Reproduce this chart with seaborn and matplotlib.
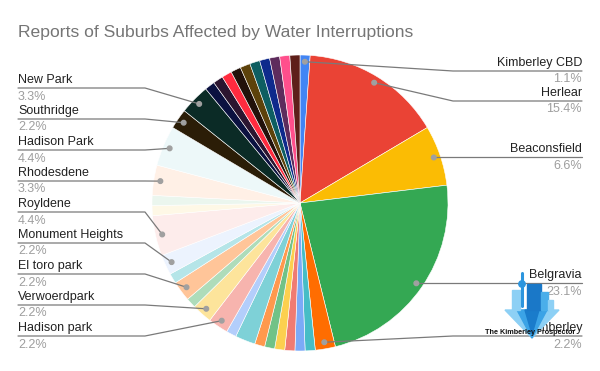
import numpy as np
import matplotlib.pyplot as plt
from matplotlib.patches import Polygon, Rectangle, Circle
import seaborn as sns

# data, in clockwise order starting at 12 o'clock ("" = slice without a label)
suburbs = ["Kimberley CBD", "Herlear", "Beaconsfield", "Belgravia", "Kimberley",
           "", "", "", "", "", "", "", "",
           "Hadison park", "Verwoerdpark", "", "El toro park", "", "Monument Heights",
           "Royldene", "", "", "Rhodesdene", "Hadison Park", "Southridge", "New Park",
           "", "", "", "", "", "", "", "", "", ""]
reports = [1, 14, 6, 21, 2,
           1, 1, 1, 1, 1, 1, 2, 1,
           2, 2, 1, 2, 1, 2,
           4, 1, 1, 3, 4, 2, 3,
           1, 1, 1, 1, 1, 1, 1, 1, 1, 1]
colors = ["#4285F4", "#EA4335", "#FBBC04", "#34A853", "#FF6D01",
          "#46BDC6", "#7BAAF7", "#F07B72", "#FCD04F", "#71C287", "#FF994D", "#7ED1D7", "#B3CEFB",
          "#F7B4AE", "#FDE49B", "#AEDCBA", "#FFC599", "#B5E5E8", "#ECF3FE",
          "#FDECEB", "#FEF8E6", "#EBF6EE", "#FFF0E6", "#EDF8F9", "#2B1D07", "#0B2B26",
          "#0B1140", "#2C1530", "#FF2B3F", "#22110A", "#5D420B", "#0E5E61", "#0E2A8C",
          "#5E2C5D", "#FF4F8C", "#5E1F1A"]

sns.set_theme(style="white")
plt.rcParams["font.family"] = ["Liberation Sans", "DejaVu Sans"]

W, H = 600, 371
fig = plt.figure(figsize=(6, 3.71), dpi=100)
ax = fig.add_axes([0, 0, 1, 1])

cx, cy, r = 300, H - 203, 148
wedges, _ = ax.pie(reports, colors=sns.color_palette(colors), startangle=90,
                   counterclock=False, radius=r, center=(cx, cy),
                   wedgeprops=dict(linewidth=0.4, edgecolor="white"))
ax.set_xlim(0, W)
ax.set_ylim(0, H)
ax.set_aspect("equal")
ax.axis("off")

ax.text(18, H - 37, "Reports of Suburbs Affected by Water Interruptions",
        fontsize=12.6, color="#757575", va="baseline", ha="left")

# label anchor points on each labelled slice
total = sum(reports)
pts = []
for w, name, v in zip(wedges, suburbs, reports):
    if not name:
        continue
    a = np.deg2rad((w.theta1 + w.theta2) / 2)
    pts.append((name, v, cx + 0.955 * r * np.cos(a), cy + 0.955 * r * np.sin(a)))

left = sorted([p for p in pts if p[2] < cx], key=lambda p: -p[3])
right = sorted([p for p in pts if p[2] >= cx], key=lambda p: -p[3])

line_c, dot_c = "#7a7a7a", "#a0a0a0"


def put_label(name, v, x, ly, ha):
    ax.text(x, ly + 2, name, fontsize=9, color="#222222", ha=ha, va="bottom")
    ax.text(x, ly - 2.5, f"{v / total * 100:.1f}%", fontsize=9, color="#9e9e9e",
            ha=ha, va="top")


for i, (name, v, px, py) in enumerate(left):
    ly = H - (88 + 31 * i)
    ax.plot([18, 145, px], [ly, ly, py], color=line_c, lw=0.9)
    ax.add_patch(Circle((px, py), 2.3, color=dot_c, zorder=5))
    put_label(name, v, 18, ly, "left")

prev = None
ys = []
for name, v, px, py in right:
    ly = min(py, H - 71)
    if prev is not None:
        ly = min(ly, prev - 30)
    ly = max(ly, H - 336)
    ys.append(ly)
    prev = ly
for (name, v, px, py), ly in zip(right, ys):
    ax.plot([582, 453, px], [ly, ly, py], color=line_c, lw=0.9)
    ax.add_patch(Circle((px, py), 2.3, color=dot_c, zorder=5))
    put_label(name, v, 582, ly, "right")

# watermark logo
Y = lambda y: H - y
ax.add_patch(Polygon([(505, Y(310)), (559, Y(310)), (532, Y(338))], color="#8DD0F5", zorder=6))
ax.add_patch(Polygon([(517, Y(310)), (547, Y(310)), (532, Y(338))], color="#3BA3E6", zorder=6))
ax.add_patch(Polygon([(525, Y(310)), (539, Y(310)), (532, Y(334))], color="#1A7CCB", zorder=6))
ax.add_patch(Rectangle((512, Y(310)), 8, 20, color="#8DD0F5", zorder=6))
ax.add_patch(Rectangle((527, Y(310)), 14, 26, color="#1A78C8", zorder=6))
ax.add_patch(Rectangle((541, Y(310)), 7, 18, color="#4AAEEA", zorder=6))
ax.add_patch(Rectangle((548, Y(310)), 5, 10, color="#8DD0F5", zorder=6))
ax.plot([522, 522], [Y(306), Y(273)], color="#2C95DE", lw=2.2, zorder=6)
ax.add_patch(Circle((522, Y(284)), 3.2, color="#2C95DE", zorder=6))
ax.text(530, Y(332), "The Kimberley Prospector", fontsize=5.2, fontweight="bold",
        family=["Liberation Sans Narrow", "DejaVu Sans Condensed", "Liberation Sans"],
        color="#111111", ha="center", va="center", zorder=7)

fig.savefig("out.png", dpi=100)
